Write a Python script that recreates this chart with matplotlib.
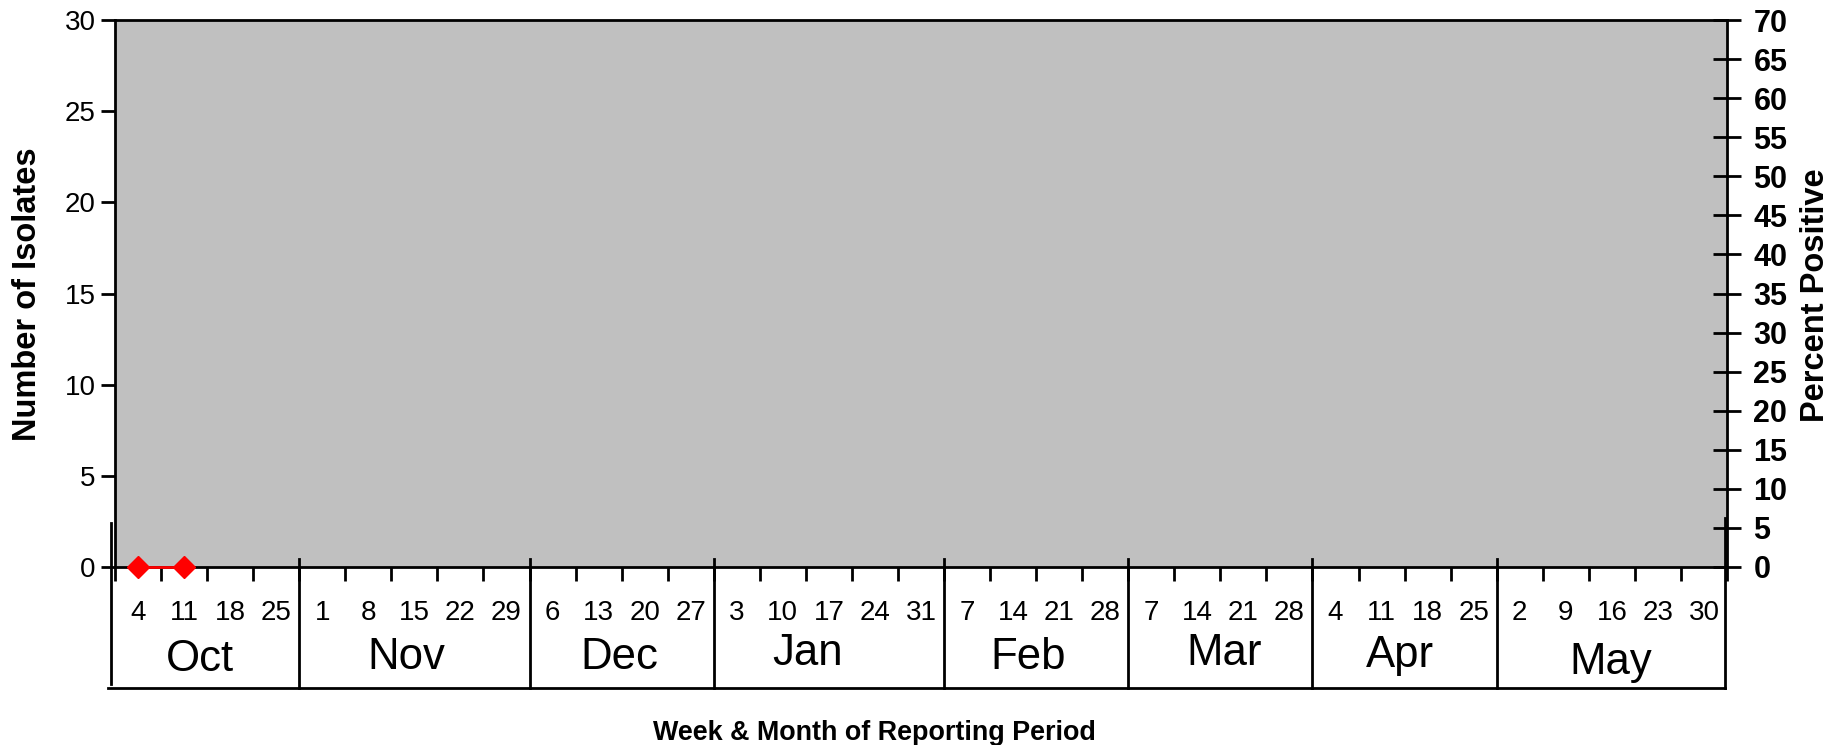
import numpy as np
import matplotlib
matplotlib.use("Agg")
import matplotlib.pyplot as plt
from matplotlib.transforms import blended_transform_factory

weeks = [4, 11, 18, 25, 1, 8, 15, 22, 29, 6, 13, 20, 27, 3, 10, 17, 24, 31,
         7, 14, 21, 28, 7, 14, 21, 28, 4, 11, 18, 25, 2, 9, 16, 23, 30]
months = ["Oct", "Nov", "Dec", "Jan", "Feb", "Mar", "Apr", "May"]
weeks_per_month = [4, 5, 4, 5, 4, 4, 4, 5]
isolates = [0, 0] + [np.nan] * 33

# small layout nudges for month labels (x in weeks, y in axes fraction)
month_dx = [-0.15, -0.18, -0.05, -0.46, -0.18, 0.08, -0.1, -0.02]
month_dy = [-0.006, -0.002, -0.002, 0.004, -0.002, 0.004, 0.002, -0.011]

plt.rcParams['font.family'] = ['Liberation Sans', 'DejaVu Sans']

W, H = 1841, 745
fig = plt.figure(figsize=(W / 100, H / 100), dpi=100)
ax = fig.add_axes([115/W, 178/H, (1727-115)/W, 547/H])
ax.set_facecolor('#C0C0C0')
n = len(weeks)
x = np.arange(n)
ax.set_xlim(-0.5, n - 0.5)
ax.set_ylim(0, 30)
ax.set_yticks(np.arange(0, 31, 5))
ax.tick_params(axis='y', labelsize=20, length=10, width=2, direction='out', pad=4)
for s in ax.spines.values():
    s.set_linewidth(2)
ax.spines['right'].set_visible(False)

ax.plot(x, isolates, color='#FF0000', lw=2, marker='D', ms=11, zorder=5, clip_on=False)

# x ticks at week boundaries
ax.set_xticks(np.arange(-0.5, n + 0.5, 1))
ax.set_xticklabels([])
ax.tick_params(axis='x', length=10, width=2, direction='out')
ax.set_xticks(x, minor=True)
ax.set_xticklabels([str(w) for w in weeks], minor=True, fontsize=20)
ax.tick_params(axis='x', which='minor', length=0, pad=24)

ax2 = ax.twinx()
ax2.set_ylim(0, 70)
ax2.set_yticks(np.arange(0, 71, 5))
ax2.tick_params(axis='y', length=20, width=2, direction='inout', pad=9)
for lab in ax2.get_yticklabels():
    lab.set_fontweight('bold')
    lab.set_fontsize(22)
for s in ax2.spines.values():
    s.set_visible(False)
ax2.spines['right'].set_visible(True)
ax2.spines['right'].set_linewidth(2)

fig.text(28/W, 1 - 294/H, "Number of Isolates", rotation=90, ha='center', va='center',
         fontsize=23.5, fontweight='bold')
fig.text(1815/W, 1 - 295/H, "Percent Positive", rotation=90, ha='center', va='center',
         fontsize=23.5, fontweight='bold')

trans = blended_transform_factory(ax.transData, ax.transAxes)
bounds = np.concatenate([[0], np.cumsum(weeks_per_month)]) - 0.5
box_bottom = (567 - 688) / 547
for i, b in enumerate(bounds):
    if i == 0:
        ax.plot([b - 0.09, b - 0.09], [0.08, box_bottom + 0.007], color='black', lw=2,
                transform=trans, clip_on=False)
    elif i == len(bounds) - 1:
        ax.plot([b - 0.04, b - 0.04], [0.09, box_bottom], color='black', lw=2,
                transform=trans, clip_on=False)
    else:
        ax.plot([b, b], [0.0146, box_bottom], color='black', lw=2,
                transform=trans, clip_on=False)
ax.plot([bounds[0] - 0.15, bounds[-1] - 0.04], [box_bottom, box_bottom], color='black', lw=2,
        transform=trans, clip_on=False)

for i, m in enumerate(months):
    c = (bounds[i] + bounds[i + 1]) / 2 + month_dx[i]
    ax.text(c, -0.163 + month_dy[i], m, transform=trans, ha='center', va='center',
            fontsize=31.5)

fig.text(874/W, 1 - 733/H, "Week & Month of Reporting Period", ha='center', va='center',
         fontsize=19.4, fontweight='bold')

fig.savefig("out.png", dpi=100)
